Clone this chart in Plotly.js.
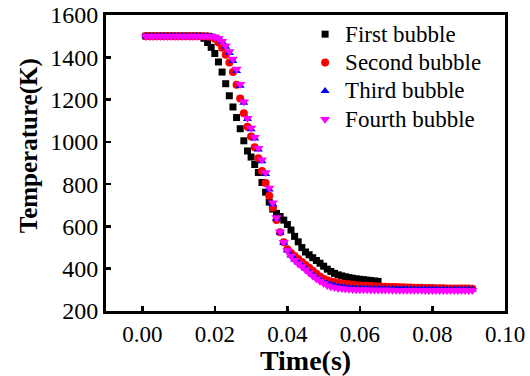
<!DOCTYPE html>
<html>
<head>
<meta charset="utf-8">
<script src="https://cdn.plot.ly/plotly-3.0.1.min.js"></script>
<style>html,body{margin:0;padding:0;background:#fff;}#chart{width:530px;height:376px;}</style>
</head>
<body>
<div id="chart"></div>
<script>
// Time (s)
const time = [0.001,0.002,0.003,0.004,0.005,0.006,0.007,0.008,0.009,0.010,
0.011,0.012,0.013,0.014,0.015,0.016,0.017,0.018,0.019,0.020,
0.021,0.022,0.023,0.024,0.025,0.026,0.027,0.028,0.029,0.030,
0.031,0.032,0.033,0.034,0.035,0.036,0.037,0.038,0.039,0.040,
0.041,0.042,0.043,0.044,0.045,0.046,0.047,0.048,0.049,0.050,
0.051,0.052,0.053,0.054,0.055,0.056,0.057,0.058,0.059,0.060,
0.061,0.062,0.063,0.064,0.065,0.066,0.067,0.068,0.069,0.070,
0.071,0.072,0.073,0.074,0.075,0.076,0.077,0.078,0.079,0.080,
0.081,0.082,0.083,0.084,0.085,0.086,0.087,0.088,0.089,0.090,0.091];

// Temperature (K)
const firstBubble = [1500,1500,1500,1500,1500,1500,1500,1500,1500,1500,
1500,1500,1500,1500,1500,1500,1490,1470,1447,1418,
1378,1330,1275,1218,1165,1115,1062,1005,957,928,
893,855,808,762,715,682,662,647,630,609,
583,553,527,500,479,466,452,439,426,412,
398,387,378,371,366,362,358,355,352,350,
348,346,344,342,340];

const secondBubble = [1500,1500,1500,1500,1500,1500,1500,1500,1500,1500,
1500,1500,1500,1500,1500,1500,1500,1500,1496,1488,
1470,1445,1412,1375,1330,1270,1205,1135,1072,1025,
975,922,862,805,745,690,630,572,525,492,
474,460,446,432,418,404,390,376,363,352,
345,340,336,333,330,328,326,324,322,321,
320,319,318,317,316,315,315,314,313,313,
312,312,311,311,310,310,310,309,309,309,
308,308,308,307,307,307,306,306,306,306,305];

const thirdBubble = [1500,1500,1500,1500,1500,1500,1500,1500,1500,1500,
1500,1500,1500,1500,1500,1500,1500,1500,1500,1496,
1488,1473,1450,1420,1383,1335,1265,1185,1108,1060,
1016,964,908,848,775,705,636,570,522,486,
462,444,429,415,401,387,373,360,348,338,
330,324,319,316,313,311,309,308,307,306,
306,306,305,305,305,305,305,304,304,304,
304,304,304,303,303,303,303,303,303,303,
303,302,302,302,302,302,302,302,302,302,302];

const fourthBubble = [1500,1500,1500,1500,1500,1500,1500,1500,1500,1500,
1500,1500,1500,1500,1500,1500,1500,1500,1500,1497,
1490,1476,1455,1427,1392,1345,1272,1190,1112,1065,
1022,970,915,855,782,712,642,575,525,486,
460,440,424,410,395,380,366,353,341,330,
321,315,311,308,306,304,303,302,301,300,
300,300,299,299,299,299,299,299,298,298,
298,298,298,298,298,298,298,297,297,297,
297,297,297,297,297,297,297,297,297,297,297];

const seriesNames = ["First bubble","Second bubble","Third bubble","Fourth bubble"];
const xTickVals = [0.00,0.02,0.04,0.06,0.08,0.10];
const xTickText = ["0.00","0.02","0.04","0.06","0.08","0.10"];
const yTickVals = [200,400,600,800,1000,1200,1400,1600];

const FONT = "Liberation Serif, Times New Roman, serif";
const legendName = s => '<span style="font-size:23px">' + s + '</span>';

const traces = [
  {x: time.slice(0, firstBubble.length), y: firstBubble, name: legendName(seriesNames[0]), type: "scatter", mode: "markers",
   marker: {symbol: "square", size: 7, color: "#000000"}},
  {x: time, y: secondBubble, name: legendName(seriesNames[1]), type: "scatter", mode: "markers",
   marker: {symbol: "circle", size: 8, color: "#ff0000"}},
  {x: time, y: thirdBubble, name: legendName(seriesNames[2]), type: "scatter", mode: "markers",
   marker: {symbol: "triangle-up", size: 8, color: "#0000ff"}},
  {x: time, y: fourthBubble, name: legendName(seriesNames[3]), type: "scatter", mode: "markers",
   marker: {symbol: "triangle-down", size: 9, color: "#ff00ff"}}
];

const layout = {
  width: 530, height: 376,
  margin: {l: 106, r: 25, t: 15, b: 65},
  paper_bgcolor: "#ffffff", plot_bgcolor: "#ffffff",
  font: {family: FONT, color: "#000000", size: 24},
  showlegend: true,
  legend: {x: 0.499, y: 1.0, xanchor: "left", yanchor: "top", bgcolor: "rgba(0,0,0,0)",
           borderwidth: 0, font: {family: FONT, size: 19.5, color: "#000"}},
  xaxis: {
    range: [-0.01, 0.10], tickvals: xTickVals, ticktext: xTickText,
    ticks: "inside", ticklen: 5, tickwidth: 2.5, tickcolor: "#000",
    showline: true, linewidth: 3, linecolor: "#000", mirror: true,
    showgrid: false, zeroline: false,
    tickfont: {family: FONT, size: 23, color: "#000"},
    title: {text: "Time(s)", font: {family: FONT, size: 28, color: "#000", weight: "bold"}, standoff: 4}
  },
  yaxis: {
    range: [200, 1600], tickvals: yTickVals,
    ticks: "inside", ticklen: 5, tickwidth: 2.5, tickcolor: "#000",
    showline: true, linewidth: 3, linecolor: "#000", mirror: true,
    showgrid: false, zeroline: false,
    tickfont: {family: FONT, size: 24, color: "#000"},
    title: {text: ""}
  },
  annotations: [
    {text: "<b>Temperature(K)</b>", textangle: -90, xref: "paper", yref: "paper",
     x: -0.193, y: 0.56, xanchor: "center", yanchor: "middle", showarrow: false,
     font: {family: FONT, size: 25, color: "#000"}}
  ]
};

Plotly.newPlot("chart", traces, layout, {displayModeBar: false, staticPlot: true});
</script>
</body>
</html>
